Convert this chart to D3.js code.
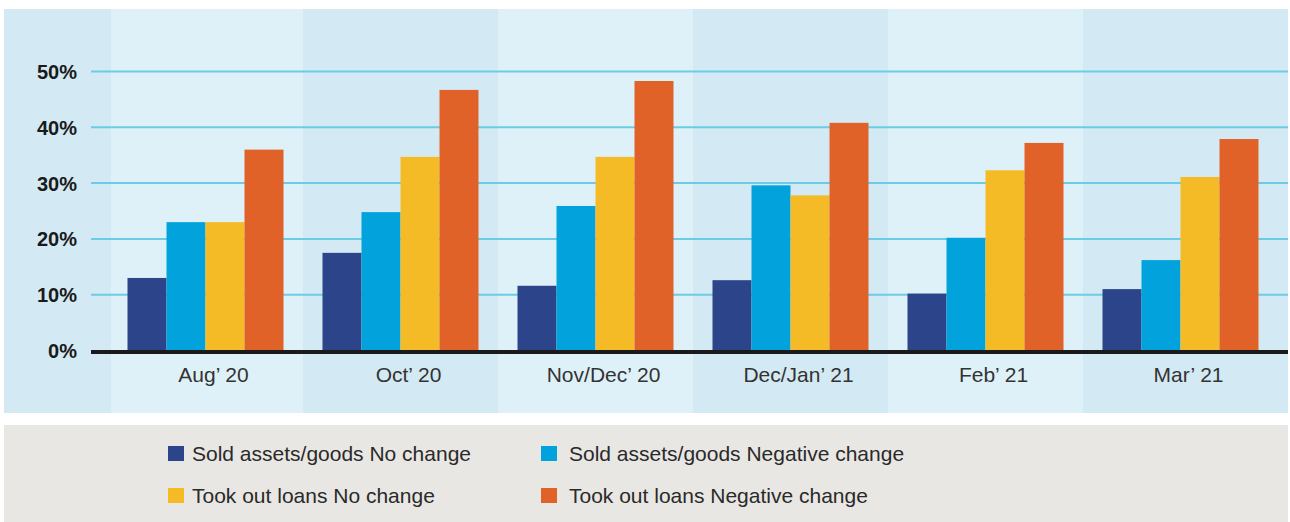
<!DOCTYPE html>
<html>
<head>
<meta charset="utf-8">
<script src="https://cdn.jsdelivr.net/npm/d3@7"></script>
<style>
  body { margin: 0; background: #fff; }
  svg { display: block; font-family: "Liberation Sans", Arial, sans-serif; }
</style>
</head>
<body>
<script>
var width = 1290,
    height = 522;

// periods on the x axis
var periods = ["Aug\u2019 20", "Oct\u2019 20", "Nov/Dec\u2019 20", "Dec/Jan\u2019 21", "Feb\u2019 21", "Mar\u2019 21"];

// series names, in legend order
var seriesNames = [
  "Sold assets/goods No change",
  "Sold assets/goods Negative change",
  "Took out loans No change",
  "Took out loans Negative change"
];

// values in %, one per period
var soldNoChange = [13, 17.5, 11.6, 12.6, 10.2, 11];
var soldNegative = [23, 24.8, 25.9, 29.6, 20.2, 16.2];
var loansNoChange = [23, 34.7, 34.7, 27.8, 32.3, 31.1];
var loansNegative = [36, 46.7, 48.3, 40.8, 37.2, 37.9];

var yTicks = [0, 10, 20, 30, 40, 50];

var colors = ["#2c4489", "#02a3dc", "#f4bb26", "#e06228"];

var seriesValues = [soldNoChange, soldNegative, loansNoChange, loansNegative];

var svg = d3.select("body").append("svg")
    .attr("width", width)
    .attr("height", height);

// x scale for the periods, and one inside each period for the four bars
var x = d3.scaleBand()
    .domain(periods)
    .range([108, 1278])
    .paddingInner(0.2)
    .paddingOuter(0.1);

var xInner = d3.scaleBand()
    .domain(d3.range(seriesNames.length))
    .range([0, x.bandwidth()]);

var y = d3.scaleLinear()
    .domain([0, 50])
    .range([350.5, 71.5]);

var panelTop = 9, panelBottom = 413;

// background stripes: left margin, then one per period
var stripes = [{x0: 4, x1: 111, dark: true}];
periods.forEach(function(p, i) {
  var x0 = i === 0 ? 111 : x(p) - x.step() * x.paddingInner() / 2;
  var x1 = i === periods.length - 1 ? 1288 : x(p) + x.bandwidth() + x.step() * x.paddingInner() / 2;
  stripes.push({x0: x0, x1: x1, dark: i % 2 === 1});
});

svg.append("g").selectAll("rect")
    .data(stripes)
  .enter().append("rect")
    .attr("x", d => d.x0)
    .attr("y", panelTop)
    .attr("width", d => d.x1 - d.x0)
    .attr("height", panelBottom - panelTop)
    .attr("fill", d => d.dark ? "#d3eaf4" : "#dff1f8");

// gridlines
svg.append("g").selectAll("line")
    .data(yTicks.filter(t => t > 0))
  .enter().append("line")
    .attr("x1", 91)
    .attr("x2", 1288)
    .attr("y1", d => y(d))
    .attr("y2", d => y(d))
    .attr("stroke", "#6ccbe6")
    .attr("stroke-width", 2);

// y axis labels
var yAxis = d3.axisLeft(y)
    .tickValues(yTicks)
    .tickSize(0)
    .tickPadding(0)
    .tickFormat(d => d + "%");

svg.append("g")
    .attr("transform", "translate(77,0)")
    .call(yAxis)
    .call(g => g.select(".domain").remove())
    .selectAll("text")
      .attr("font-family", "\"Liberation Sans\", Arial, sans-serif")
      .attr("font-size", 20)
      .attr("font-weight", "bold")
      .attr("fill", "#1a1a1a")
      .attr("dy", "0.35em");

// bars
var groups = svg.append("g").selectAll("g")
    .data(periods)
  .enter().append("g")
    .attr("transform", d => "translate(" + x(d) + ",0)");

groups.selectAll("rect")
    .data(function(p, i) {
      return seriesValues.map(function(vals, s) { return {s: s, v: vals[i]}; });
    })
  .enter().append("rect")
    .attr("x", d => xInner(d.s))
    .attr("y", d => y(d.v))
    .attr("width", xInner.bandwidth())
    .attr("height", d => y(0) - y(d.v))
    .attr("fill", d => colors[d.s]);

// baseline
svg.append("line")
    .attr("x1", 91)
    .attr("x2", 1288)
    .attr("y1", y(0) + 1.5)
    .attr("y2", y(0) + 1.5)
    .attr("stroke", "#1a1a1a")
    .attr("stroke-width", 4);

// x axis labels (sit a little right of the bar groups in the original)
var xAxis = d3.axisBottom(x).tickSize(0).tickPadding(0);

svg.append("g")
    .attr("transform", "translate(8,382)")
    .call(xAxis)
    .call(g => g.select(".domain").remove())
    .selectAll("text")
      .attr("y", 0)
      .attr("dy", 0)
      .attr("font-family", "\"Liberation Sans\", Arial, sans-serif")
      .attr("font-size", 21)
      .attr("fill", "#333");

// legend panel
svg.append("rect")
    .attr("x", 4)
    .attr("y", 425)
    .attr("width", 1284)
    .attr("height", 97)
    .attr("fill", "#e9e7e3");

var legendPos = [
  {x: 168, y: 446, tx: 24}, {x: 541, y: 446, tx: 28},
  {x: 168, y: 488, tx: 24}, {x: 541, y: 488, tx: 28}
];

var legend = svg.append("g").selectAll("g")
    .data(seriesNames)
  .enter().append("g")
    .attr("transform", (d, i) => "translate(" + legendPos[i].x + "," + legendPos[i].y + ")");

legend.append("rect")
    .attr("width", 16)
    .attr("height", 15)
    .attr("fill", (d, i) => colors[i]);

legend.append("text")
    .attr("x", (d, i) => legendPos[i].tx)
    .attr("y", 15)
    .attr("font-size", 21)
    .attr("fill", "#2a2a2a")
    .text(d => d);
</script>
</body>
</html>
